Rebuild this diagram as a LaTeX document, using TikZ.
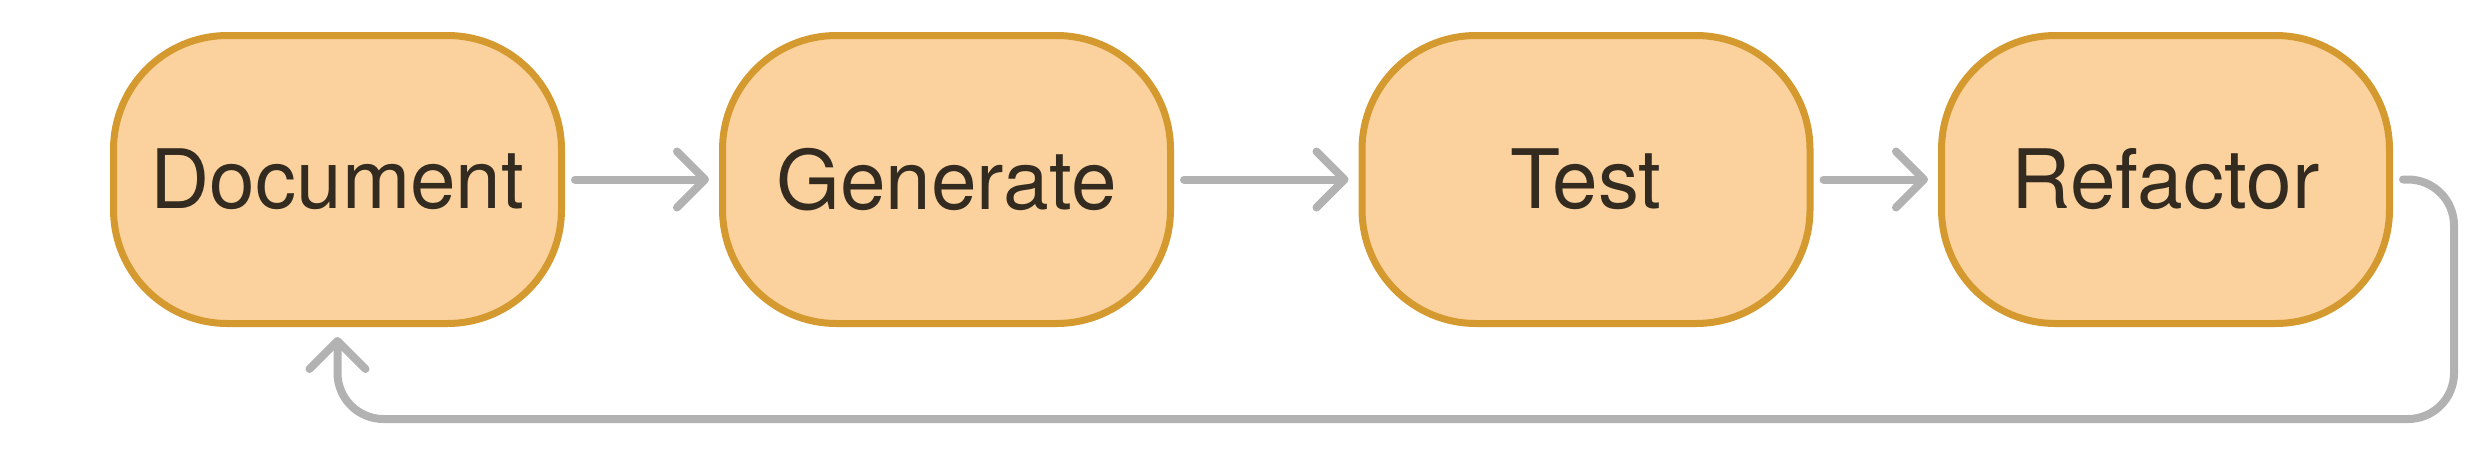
\documentclass[tikz,border=0pt]{standalone}
\usepackage{fontspec}
\setmainfont{TeX Gyre Heros}
\usetikzlibrary{arrows.meta}
\definecolor{flowcolor0000}{RGB}{251,210,157}
\definecolor{flowcolor0001}{RGB}{212,154,48}
\definecolor{flowcolor0002}{RGB}{51,43,32}
\definecolor{flowcolor0003}{RGB}{178,178,178}

\begin{document}
\begin{tikzpicture}[yscale=-1
,pstyle0/.style={draw=flowcolor0001,fill=flowcolor0000,line width=3.5pt,rounded corners=57pt,minimum width=224pt,minimum height=144pt,inner sep=0pt,text=flowcolor0002,font=\fontsize{41pt}{49pt}\selectfont}
,pstyle1/.style={color=flowcolor0003,line width=4pt,line cap=round,line join=round,-{Straight Barb[length=14pt,width=28pt,line cap=round,line join=round]}}
]
\useasboundingbox (0pt,0pt) rectangle (1241pt,231pt);
\node[pstyle0] (document) at (168.75pt,89.75pt) {Document};
\node[pstyle0] (generate) at (473.25pt,89.75pt) {Generate};
\node[pstyle0] (test) at (793pt,89.75pt) {Test};
\node[pstyle0] (refactor) at (1082.75pt,89.75pt) {Refactor};
\draw[pstyle1,shorten <=5pt,shorten >=5pt] (document) -- (generate);
\draw[pstyle1,shorten <=5pt,shorten >=5pt] (generate) -- (test);
\draw[pstyle1,shorten <=5pt,shorten >=5pt] (test) -- (refactor);
\coordinate (loopturn) at (1227pt,209.5pt);
\draw[pstyle1,rounded corners=23pt,shorten >=5pt] ([xshift=5pt]refactor.east) -- (refactor.east -| loopturn) -- (loopturn) -- (loopturn -| document.south) -- (document.south);
\end{tikzpicture}
\end{document}
